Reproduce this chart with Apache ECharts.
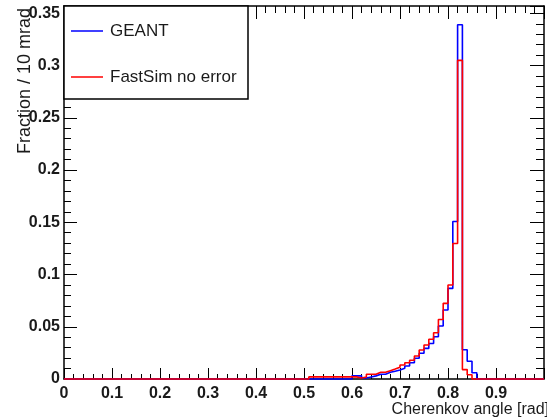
<!DOCTYPE html>
<html>
<head>
<meta charset="utf-8">
<script src="https://cdn.jsdelivr.net/npm/echarts@6/dist/echarts.min.js"></script>
<style>
html,body{margin:0;padding:0;background:#fff;}
#chart{width:547px;height:420px;}
</style>
</head>
<body>
<div id="chart"></div>
<script>
// Histogram bins: low edge of first bin and bin width (rad)
const binLow = 0.51;
const binWidth = 0.01;
// GEANT (blue) fraction per 10 mrad bin, starting at binLow
const geantValues = [0,0,0,0,0,0,0,0,0,
  0.003,0.003,0.001,0.002,0.003,0.0045,0.0045,0.0064,0.0075,0.0086,0.0102,
  0.0124,0.0156,0.0198,0.0246,0.0293,0.034,0.0405,0.0507,0.066,0.0867,
  0.1508,0.339,0.028,0.017,0.006,0];
// FastSim no error (red)
const fastSimValues = [0.002,0.002,0.002,0.002,0.002,0.002,0.002,0.002,0.002,
  0.002,0.001,0.002,0.0045,0.0045,0.0064,0.0064,0.008,0.0095,0.0112,0.0134,
  0.0156,0.018,0.022,0.0277,0.0325,0.038,0.0443,0.057,0.0724,0.0899,
  0.1297,0.305,0.009,0.004,0,0];
const xTicks = [0,0.1,0.2,0.3,0.4,0.5,0.6,0.7,0.8,0.9];
const yTicks = [0,0.05,0.1,0.15,0.2,0.25,0.3,0.35];
const xMin = 0, xMax = 1.0, yMin = 0, yMax = 0.357;
const seriesNames = ['GEANT','FastSim no error'];

function histPoints(values){
  const pts = [[xMin, 0]];
  values.forEach((v,i)=>pts.push([+(binLow + i*binWidth).toFixed(4), v]));
  pts.push([+(binLow + values.length*binWidth).toFixed(4), 0]);
  pts.push([xMax, 0]);
  return pts;
}

const FONT = '"Liberation Sans", Arial, Helvetica, sans-serif';
const labelStyle = {fontFamily: FONT, fontSize: 16, color: '#1a1a1a', fontWeight: 'bold'};
const axisLineStyle = {show: true, onZero: false, lineStyle: {color: '#000', width: 1.5}};
const tickLine = {color: '#000', width: 1};

const chart = echarts.init(document.getElementById('chart'), null, {renderer: 'canvas'});
const option = {
  animation: false,
  backgroundColor: '#fff',
  grid: {left: 64, top: 6, right: -1, bottom: 41, containLabel: false},
  xAxis: [
    {type: 'value', min: xMin, max: xMax, interval: 0.1, position: 'bottom',
     axisLine: axisLineStyle, splitLine: {show: false},
     axisTick: {inside: true, length: 11, lineStyle: tickLine},
     minorTick: {show: true, splitNumber: 5, length: 5, lineStyle: tickLine},
     axisLabel: Object.assign({margin: 7, formatter: v => (xTicks.indexOf(+v.toFixed(2)) >= 0) ? String(+v.toFixed(2)) : ''}, labelStyle)},
    {type: 'value', min: xMin, max: xMax, interval: 0.1, position: 'top',
     axisLine: axisLineStyle, splitLine: {show: false},
     axisTick: {inside: true, length: 13, lineStyle: tickLine},
     minorTick: {show: true, splitNumber: 5, length: 7, lineStyle: tickLine},
     axisLabel: {show: false}}
  ],
  yAxis: [
    {type: 'value', min: yMin, max: yMax, interval: 0.05, position: 'left',
     axisLine: axisLineStyle, splitLine: {show: false},
     axisTick: {inside: true, length: 13, lineStyle: tickLine},
     axisLabel: Object.assign({margin: 4, formatter: v => (yTicks.indexOf(+v.toFixed(3)) >= 0) ? String(+v.toFixed(3)) : ''}, labelStyle)},
    {type: 'value', min: yMin, max: yMax, interval: 0.01, position: 'left',
     axisLine: {show: false, onZero: false}, splitLine: {show: false},
     axisTick: {inside: true, length: 7, lineStyle: tickLine},
     axisLabel: {show: false}},
    {type: 'value', min: yMin, max: yMax, interval: 0.05, position: 'right',
     axisLine: axisLineStyle, splitLine: {show: false},
     axisTick: {inside: true, length: 14, lineStyle: tickLine},
     axisLabel: {show: false}},
    {type: 'value', min: yMin, max: yMax, interval: 0.01, position: 'right',
     axisLine: {show: false, onZero: false}, splitLine: {show: false},
     axisTick: {inside: true, length: 8, lineStyle: tickLine},
     axisLabel: {show: false}}
  ],
  series: [
    {name: seriesNames[0], type: 'line', step: 'end', symbol: 'none', z: 3,
     xAxisIndex: 0, yAxisIndex: 0, clip: false,
     lineStyle: {color: '#0000ff', width: 1.6}, data: histPoints(geantValues)},
    {name: seriesNames[1], type: 'line', step: 'end', symbol: 'none', z: 4,
     xAxisIndex: 0, yAxisIndex: 0, clip: false,
     lineStyle: {color: '#ff0000', width: 1.6}, data: histPoints(fastSimValues)}
  ],
  graphic: [
    {type: 'rect', z: 100, shape: {x: 64, y: 6, width: 184, height: 93},
     style: {fill: '#fff', stroke: '#000', lineWidth: 1.5}},
    {type: 'line', z: 101, shape: {x1: 71, y1: 31, x2: 103, y2: 31},
     style: {stroke: '#0000ff', lineWidth: 1.5}},
    {type: 'text', z: 101, x: 110, y: 31,
     style: {text: seriesNames[0], fill: '#1a1a1a', font: '17px ' + FONT, verticalAlign: 'middle', align: 'left'}},
    {type: 'line', z: 101, shape: {x1: 71, y1: 77, x2: 103, y2: 77},
     style: {stroke: '#ff0000', lineWidth: 1.5}},
    {type: 'text', z: 101, x: 110, y: 77,
     style: {text: seriesNames[1], fill: '#1a1a1a', font: '17px ' + FONT, verticalAlign: 'middle', align: 'left'}},
    {type: 'text', z: 101, x: 25, y: 8, rotation: Math.PI / 2,
     style: {text: 'Fraction / 10 mrad', fill: '#1a1a1a', font: '18px ' + FONT, verticalAlign: 'middle', align: 'right'}},
    {type: 'text', z: 101, x: 549, y: 410,
     style: {text: 'Cherenkov angle [rad]', fill: '#1a1a1a', font: '16px ' + FONT, verticalAlign: 'middle', align: 'right'}}
  ]
};
chart.setOption(option);
</script>
</body>
</html>
